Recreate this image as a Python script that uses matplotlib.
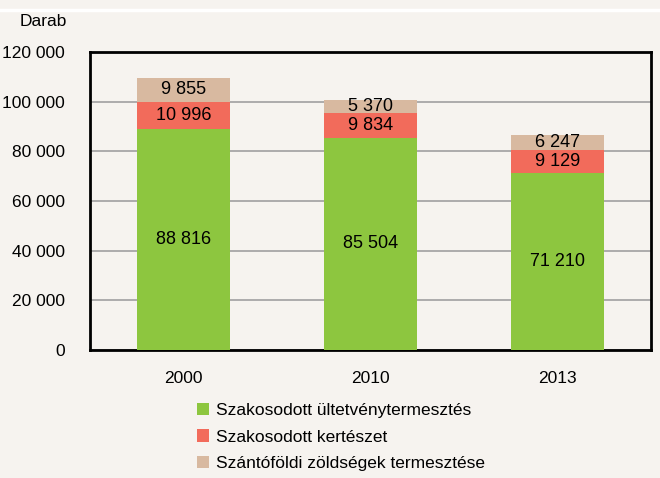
import numpy as np
import matplotlib.pyplot as plt
from matplotlib.lines import Line2D
from matplotlib.patches import Patch

plt.rcParams['font.family'] = ['Liberation Sans', 'DejaVu Sans']

years = ['2000', '2010', '2013']
ultetveny = [88816, 85504, 71210]
kerteszet = [10996, 9834, 9129]
szantofoldi = [9855, 5370, 6247]
series_names = ['Szakosodott ültetvénytermesztés', 'Szakosodott kertészet',
                'Szántóföldi zöldségek termesztése']
colors = ['#8DC63F', '#F26B5B', '#D8B9A0']
bg = '#F6F3EF'

def fmt(v):
    return '{:,}'.format(v).replace(',', ' ')

fig = plt.figure(figsize=(6.6, 4.78), dpi=100, facecolor=bg)
ax = fig.add_axes([90 / 660, 1 - 350 / 478, 561 / 660, 298 / 478])
ax.set_facecolor(bg)

x = np.arange(len(years))
bottom = np.zeros(len(years))
for vals, col in zip([ultetveny, kerteszet, szantofoldi], colors):
    ax.bar(x, vals, width=0.5, bottom=bottom, color=col, zorder=3)
    for xi, b, v in zip(x, bottom, vals):
        ax.text(xi, b + v / 2, fmt(v), ha='center', va='center', fontsize=13, zorder=4)
    bottom += vals

ax.set_xlim(-0.5, 2.5)
ax.set_ylim(0, 120000)
ax.set_yticks(np.arange(0, 120001, 20000))
ax.set_yticklabels([fmt(v) for v in range(0, 120001, 20000)], fontsize=12.5)
ax.set_xticks(x)
ax.set_xticklabels(years, fontsize=12.5)
ax.tick_params(length=0)
ax.tick_params(axis='x', pad=15)
ax.tick_params(axis='y', pad=18)
ax.yaxis.grid(True, color='#A0A0A0', linewidth=1.2, zorder=0)
for s in ax.spines.values():
    s.set_linewidth(2)
    s.set_color('black')

fig.text(20 / 660, 1 - 21 / 478, 'Darab', fontsize=12.5, va='center', ha='left')
fig.add_artist(Line2D([0, 1], [1 - 10 / 478, 1 - 10 / 478], color='white', linewidth=2.5))

handles = [Patch(facecolor=c, edgecolor='none') for c in colors]
leg = fig.legend(handles, series_names, loc='upper left',
                 bbox_to_anchor=(190 / 660, 1 - 396 / 478), frameon=False,
                 fontsize=12.5, handlelength=0.7, handleheight=0.7,
                 handletextpad=0.4, labelspacing=0.65, borderaxespad=0)

fig.savefig('out.png', dpi=100, facecolor=bg)
